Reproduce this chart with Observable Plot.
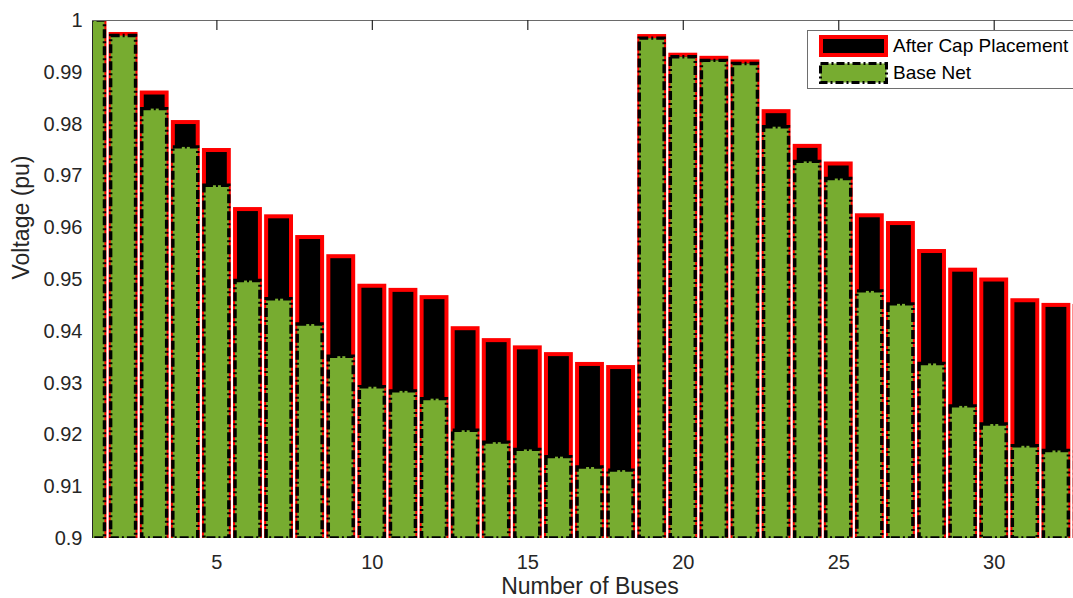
<!DOCTYPE html>
<html>
<head>
<meta charset="utf-8">
<script src="https://cdn.jsdelivr.net/npm/d3@7"></script>
<script src="https://cdn.jsdelivr.net/npm/@observablehq/plot@0.6"></script>
<style>
html, body { margin: 0; padding: 0; background: #fff; overflow: hidden; }
#wrap { position: relative; width: 1073px; height: 598px; overflow: hidden; }
#legend { position: absolute; left: 807px; top: 30px; width: 300px; height: 57px; border: 1px solid #6e6e6e; background: #fff;
  font-family: "Liberation Sans", Arial, sans-serif; font-size: 19px; color: #000; }
.item { position: absolute; left: 11px; height: 22px; display: flex; align-items: center; }
.item svg { display: block; margin-right: 5px; }
</style>
</head>
<body>
<div id="wrap"></div>
<script>
const buses = [1,2,3,4,5,6,7,8,9,10,11,12,13,14,15,16,17,18,19,20,21,22,23,24,25,26,27,28,29,30,31,32,33];
const afterCap = [1.0000,0.9973,0.9860,0.9803,0.9749,0.9635,0.9621,0.9581,0.9544,0.9487,0.9479,0.9465,0.9405,0.9382,0.9368,0.9355,0.9336,0.9330,
                  0.9969,0.9933,0.9927,0.9920,0.9824,0.9757,0.9723,0.9623,0.9608,0.9554,0.9518,0.9499,0.9459,0.9450,0.9448];
const baseNet = [1.0000,0.9970,0.9829,0.9755,0.9681,0.9497,0.9462,0.9413,0.9351,0.9292,0.9284,0.9269,0.9208,0.9185,0.9171,0.9157,0.9137,0.9131,
                 0.9965,0.9929,0.9922,0.9916,0.9794,0.9727,0.9694,0.9477,0.9452,0.9337,0.9255,0.9220,0.9178,0.9169,0.9166];
const seriesNames = ["After Cap Placement", "Base Net"];
const xTicks = [5,10,15,20,25,30];
const yTicks = [0.9,0.91,0.92,0.93,0.94,0.95,0.96,0.97,0.98,0.99,1];
const xLabel = "Number of Buses";
const yLabel = "Voltage (pu)";
const yBase = 0.9;

const rows = buses.map((b, i) => ({bus: b, after: afterCap[i], base: baseNet[i]}));
const hw = 0.4;
const GREEN = "#77AC30";
const TXT = "#262626";

const chart = Plot.plot({
  width: 1073, height: 598,
  marginLeft: 92, marginRight: -14, marginTop: 20, marginBottom: 60,
  style: {fontFamily: '"Liberation Sans", Arial, sans-serif', fontSize: "20px", color: TXT, background: "#fff", overflow: "hidden"},
  x: {domain: [1, 33]},
  y: {domain: [0.9, 1]},
  marks: [
    Plot.rect(rows, {x1: d => d.bus - hw, x2: d => d.bus + hw, y1: yBase, y2: "after", fill: "#000", stroke: "#ff0000", strokeWidth: 4, clip: true}),
    Plot.rect(rows, {x1: d => d.bus - hw, x2: d => d.bus + hw, y1: yBase, y2: "base", fill: GREEN, stroke: "#000", strokeWidth: 3.4, strokeDasharray: "9,3,2,3", clip: true}),
    Plot.ruleX([1], {stroke: TXT, strokeWidth: 1}),
    Plot.ruleY([1], {stroke: "#6a6a6a", strokeWidth: 1}),
    Plot.tickX(xTicks, {x: d => d, insetBottom: 508, stroke: TXT, strokeWidth: 1.2}),
    Plot.axisX({ticks: xTicks, tickSize: 0, tickPadding: 16, tickFormat: d => String(d), label: null, fontSize: 20}),
    Plot.axisY({ticks: yTicks, tickSize: 0, tickPadding: 10, tickFormat: d => String(+d.toFixed(2)), label: null, fontSize: 20}),
    Plot.text([xLabel], {text: d => d, frameAnchor: "bottom", dy: 55, lineAnchor: "bottom", fontSize: 23, fill: TXT}),
    Plot.text([yLabel], {text: d => d, frameAnchor: "left", dx: -80, rotate: -90, lineAnchor: "top", fontSize: 23, fill: TXT})
  ]
});
const wrap = document.getElementById("wrap");
wrap.appendChild(chart);

const legend = document.createElement("div");
legend.id = "legend";
legend.innerHTML = `
  <div class="item" style="top:4px">
    <svg width="69" height="22"><rect x="2" y="2" width="65" height="18" fill="#000" stroke="#ff0000" stroke-width="4"/></svg>
    <span>${seriesNames[0]}</span>
  </div>
  <div class="item" style="top:31px">
    <svg width="69" height="22"><rect x="1.5" y="1.5" width="66" height="19" fill="${GREEN}" stroke="#000" stroke-width="3" stroke-dasharray="8,3,2,3"/></svg>
    <span>${seriesNames[1]}</span>
  </div>`;
wrap.appendChild(legend);
</script>
</body>
</html>
